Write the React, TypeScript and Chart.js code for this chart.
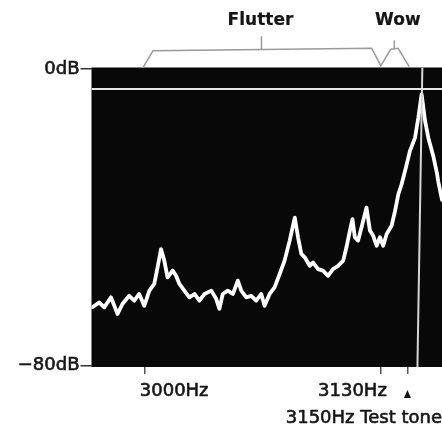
import React, { useEffect, useRef } from 'react';
import { Chart, registerables } from 'chart.js';

Chart.register(...registerables);

// Spectrum trace (frequency in Hz, level in dB)
const TRACE_HZ = [
  2971.5, 2975.2, 2978.0, 2981.7, 2985.3, 2988.0, 2991.7, 2994.5, 2997.2, 3000.0,
  3002.8, 3005.5, 3007.3, 3009.2, 3011.0, 3012.8, 3015.6, 3017.5, 3019.3, 3022.0,
  3024.8, 3027.6, 3030.3, 3033.1, 3036.8, 3039.5, 3041.3, 3043.1, 3045.9, 3048.7,
  3051.4, 3053.3, 3056.0, 3058.8, 3061.5, 3064.3, 3066.1, 3068.9, 3071.6, 3074.4,
  3077.1, 3079.9, 3082.7, 3084.5, 3086.3, 3088.2, 3090.9, 3092.7, 3095.5, 3098.2,
  3101.0, 3103.7, 3106.5, 3109.3, 3111.1, 3113.0, 3114.4, 3115.7, 3117.5, 3119.4,
  3122.1, 3124.0, 3125.8, 3127.7, 3129.5, 3131.3, 3133.2, 3135.9, 3137.8, 3139.6,
  3141.4, 3143.3, 3146.0, 3148.8, 3150.6, 3152.4, 3154.3, 3156.1, 3158.9, 3160.7,
  3161.6, 3163.6,
];
const TRACE_DB = [
  -64.3, -63.0, -64.3, -61.6, -66.1, -63.4, -61.2, -62.5, -60.7, -63.9,
  -59.8, -58.0, -53.5, -48.6, -51.7, -56.2, -54.4, -55.8, -58.0, -59.8,
  -61.6, -60.7, -62.5, -60.7, -59.8, -62.0, -64.7, -60.7, -59.8, -60.7,
  -57.1, -59.8, -61.6, -61.2, -62.5, -60.7, -63.9, -60.7, -58.9, -55.3,
  -51.7, -46.3, -40.1, -45.4, -49.9, -50.8, -53.1, -52.2, -54.0, -54.4,
  -55.8, -54.0, -53.1, -51.7, -48.1, -43.6, -40.5, -45.4, -46.3, -42.7,
  -37.4, -43.6, -45.0, -47.7, -45.4, -47.7, -44.5, -42.3, -38.3, -33.8,
  -31.1, -27.5, -22.1, -18.5, -13.1, -6.8, -14.0, -18.6, -23.7, -27.8,
  -30.5, -35.3,
];

// Axes
const X_MIN = 2971;
const X_MAX = 3163.6;
const Y_MIN = -80.4;
const Y_MAX = 0.4;
const Y_TICKS = [0, -80];
const Y_TICK_LABELS = ['0dB', '\u221280dB'];
const X_TICKS = [3000, 3130];
const X_TICK_LABELS = ['3000Hz', '3130Hz'];
const TEST_TONE_MARK_HZ = 3144.6;
const TEST_TONE_LABEL = '3150Hz Test tone';

// Reference lines
const REF_LEVEL_DB = -5.4;
const TONE_LINE_HZ = [3152.8, 3150.1];
const TONE_LINE_DB = [0.4, -80.4];

// Flutter / Wow brackets above the display
const BRACKET_HZ = [2999.3, 3004.8, 3124.9, 3130.0, 3135.4, 3139.5, 3145.6];
const BRACKET_DB = [0.35, 4.94, 5.59, 0.89, 5.32, 5.59, 0.62];
const FLUTTER_TICK_HZ = 3064.4;
const FLUTTER_TICK_DB = [5.26, 8.85];
const WOW_TICK_HZ = 3137.4;
const WOW_TICK_DB = [5.5, 7.7];
const BRACKET_LABELS = ['Flutter', 'Wow'];

const FONT = 'DejaVu Sans';
const TEXT_COLOR = '#151515';

const zip = (xs: number[], ys: number[]) => xs.map((x, i) => ({ x, y: ys[i] }));

const drawText = (ctx: CanvasRenderingContext2D, t: string, x: number, y: number, sw: number) => {
  ctx.lineWidth = sw;
  ctx.strokeText(t, x, y);
  ctx.fillText(t, x, y);
};

const overlay = {
  id: 'overlay',
  beforeDraw(chart: any) {
    const { ctx, chartArea: a } = chart;
    ctx.save();
    ctx.fillStyle = '#ffffff';
    ctx.fillRect(0, 0, chart.width, chart.height);
    ctx.fillStyle = '#080808';
    ctx.fillRect(a.left, a.top, a.right - a.left, a.bottom - a.top);
    ctx.restore();
  },
  afterDraw(chart: any) {
    const { ctx } = chart;
    const xs = chart.scales.x;
    const ys = chart.scales.y;
    ctx.save();
    ctx.fillStyle = TEXT_COLOR;
    ctx.strokeStyle = TEXT_COLOR;
    ctx.lineJoin = 'round';
    ctx.textBaseline = 'middle';
    ctx.font = `18px "${FONT}"`;
    const labelY = ys.bottom + 24;
    // x labels
    ctx.textAlign = 'left';
    drawText(ctx, X_TICK_LABELS[0], xs.getPixelForValue(X_TICKS[0]) - 4.5, labelY, 0.6);
    ctx.textAlign = 'right';
    drawText(ctx, X_TICK_LABELS[1], xs.getPixelForValue(X_TICKS[1]) + 6, labelY, 0.6);
    // arrow
    const ax = xs.getPixelForValue(TEST_TONE_MARK_HZ);
    ctx.beginPath();
    ctx.moveTo(ax, ys.bottom + 23);
    ctx.lineTo(ax + 3.5, ys.bottom + 31);
    ctx.lineTo(ax - 3.5, ys.bottom + 31);
    ctx.closePath();
    ctx.fill();
    ctx.textAlign = 'right';
    drawText(ctx, TEST_TONE_LABEL, chart.width, ys.bottom + 51, 0.6);
    // bracket labels
    ctx.font = `bold 17px "${FONT}"`;
    ctx.textAlign = 'center';
    drawText(ctx, BRACKET_LABELS[0], xs.getPixelForValue(FLUTTER_TICK_HZ) - 1, 21, 0.2);
    drawText(ctx, BRACKET_LABELS[1], xs.getPixelForValue(WOW_TICK_HZ) + 3.5, 21, 0.2);
    ctx.restore();
  },
};

export default function App() {
  const ref = useRef<HTMLCanvasElement>(null);
  useEffect(() => {
    const bracketStyle = {
      borderColor: '#9a9a9a',
      borderWidth: 1.5,
      pointRadius: 0,
      clip: false as any,
      tension: 0,
    };
    const chart = new Chart(ref.current!, {
      type: 'line',
      data: {
        datasets: [
          {
            data: [
              { x: X_MIN, y: REF_LEVEL_DB },
              { x: X_MAX, y: REF_LEVEL_DB },
            ],
            borderColor: '#e6e6e6',
            borderWidth: 2,
            pointRadius: 0,
          },
          {
            data: zip(TONE_LINE_HZ, TONE_LINE_DB),
            borderColor: '#d4d4d4',
            borderWidth: 2,
            pointRadius: 0,
          },
          {
            data: zip(TRACE_HZ, TRACE_DB),
            borderColor: '#ffffff',
            borderWidth: 3.8,
            pointRadius: 0,
            tension: 0,
            borderJoinStyle: 'round',
            borderCapStyle: 'round',
          },
          { data: zip(BRACKET_HZ, BRACKET_DB), ...bracketStyle },
          {
            data: FLUTTER_TICK_DB.map((y) => ({ x: FLUTTER_TICK_HZ, y })),
            ...bracketStyle,
          },
          {
            data: WOW_TICK_DB.map((y) => ({ x: WOW_TICK_HZ, y })),
            ...bracketStyle,
          },
        ] as any,
      },
      options: {
        animation: false,
        responsive: false,
        events: [],
        layout: { padding: { top: 67.5, left: 0, right: 0, bottom: 0 } },
        plugins: { legend: { display: false }, tooltip: { enabled: false } },
        scales: {
          x: {
            type: 'linear',
            min: X_MIN,
            max: X_MAX,
            afterBuildTicks: (s: any) => {
              s.ticks = [...X_TICKS, TEST_TONE_MARK_HZ].map((value) => ({ value }));
            },
            ticks: { display: false },
            grid: {
              drawOnChartArea: false,
              drawTicks: true,
              tickLength: 7,
              color: '#555555',
              lineWidth: 1.5,
            },
            border: { display: false },
            afterFit: (s: any) => {
              s.height = 61;
            },
          },
          y: {
            type: 'linear',
            min: Y_MIN,
            max: Y_MAX,
            afterBuildTicks: (s: any) => {
              s.ticks = Y_TICKS.map((value) => ({ value }));
            },
            ticks: {
              callback: (v: any) => Y_TICK_LABELS[Y_TICKS.indexOf(Number(v))] ?? '',
              font: { family: FONT, size: 18 },
              color: TEXT_COLOR,
              textStrokeColor: TEXT_COLOR,
              textStrokeWidth: 0.6,
              padding: 1,
              autoSkip: false,
            },
            grid: {
              drawOnChartArea: false,
              drawTicks: true,
              tickLength: 11,
              color: '#333333',
              lineWidth: 1.5,
            },
            border: { display: false },
            afterFit: (s: any) => {
              s.width = 91.5;
            },
          },
        },
      } as any,
      plugins: [overlay],
    });
    return () => chart.destroy();
  }, []);
  return (
    <div style={{ position: 'absolute', left: 0, top: 0, width: 442, height: 428, background: '#fff' }}>
      <canvas ref={ref} width={442} height={428} />
    </div>
  );
}
